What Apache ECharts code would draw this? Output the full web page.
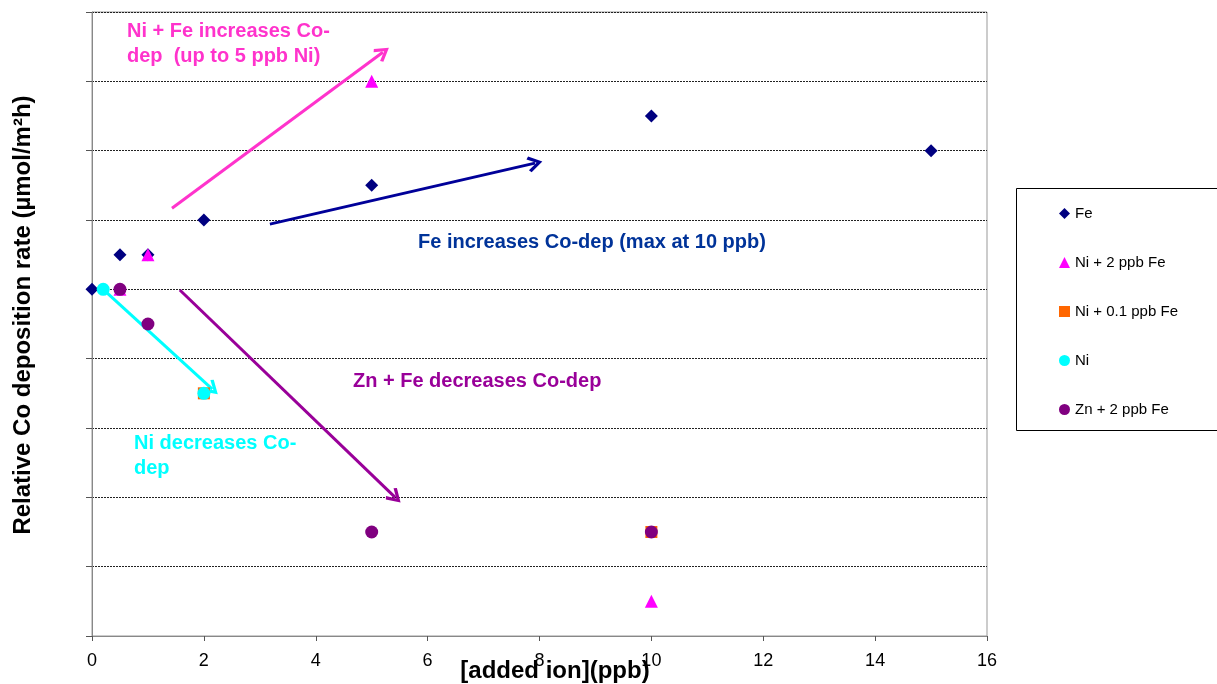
<!DOCTYPE html>
<html><head><meta charset="utf-8">
<script src="https://cdn.jsdelivr.net/npm/echarts@6/dist/echarts.min.js"></script>
<style>html,body{margin:0;padding:0;background:#fff}#c{width:1217px;height:684px}</style>
</head><body><div id="c"></div>
<script>
// Data (y in relative grid units, 0..9)
const xTicks = [0, 2, 4, 6, 8, 10, 12, 14, 16];
const feX = [0, 0.5, 1, 2, 5, 10, 15];
const feY = [5.0, 5.5, 5.5, 6.0, 6.5, 7.5, 7.0];
const ni2X = [0.5, 1, 5, 10];
const ni2Y = [5.0, 5.5, 8.0, 0.5];
const ni01X = [2, 10];
const ni01Y = [3.5, 1.5];
const niX = [0.2, 2];
const niY = [5.0, 3.5];
const znX = [0.5, 1, 5, 10];
const znY = [5.0, 4.5, 1.5, 1.5];
// Annotation arrows [x1,y1,x2,y2] in data units
const arrowNiFe = [1.43, 6.17, 5.2, 8.42];
const arrowFe = [3.18, 5.94, 7.92, 6.82];
const arrowZn = [1.57, 4.99, 5.42, 2.0];
const arrowNi = [0.2, 5.0, 2.15, 3.56];

const zip = (xs, ys) => xs.map((x, i) => [x, ys[i]]);
const arrowHead = 'path://M5,0 L10,8.2 L8.4,9.6 L5,3.8 L1.6,9.6 L0,8.2 Z';
function arrow(a, color) {
  return {
    type: 'scatter', data: [], silent: true,
    markLine: {
      silent: true, animation: false,
      symbol: ['none', arrowHead], symbolSize: [16, 15],
      label: {show: false},
      lineStyle: {color: color, width: 3, type: 'solid'},
      data: [[{coord: [a[0], a[1]]}, {coord: [a[2], a[3]]}]]
    }
  };
}
const chart = echarts.init(document.getElementById('c'));
const font = 'Arial, "Liberation Sans", sans-serif';
chart.setOption({
  animation: false,
  backgroundColor: '#fff',
  grid: {left: 92, right: 230, top: 12, bottom: 48, show: true, borderColor: '#999', borderWidth: 1,
         outerBoundsMode: 'none', containLabel: false},
  xAxis: {
    type: 'value', min: 0, max: 16, interval: 2,
    axisLine: {lineStyle: {color: '#888', width: 1}},
    axisTick: {show: true, inside: false, length: 5, lineStyle: {color: '#555'}},
    axisLabel: {fontFamily: font, fontSize: 18, color: '#000', margin: 16},
    splitLine: {show: false}
  },
  yAxis: {
    type: 'value', min: 0, max: 9, interval: 1,
    axisLine: {show: true, lineStyle: {color: '#888', width: 1}},
    axisTick: {show: true, inside: false, length: 6, lineStyle: {color: '#555'}},
    axisLabel: {show: false},
    splitLine: {show: true, lineStyle: {color: '#222', type: [2, 1], width: 1}}
  },
  legend: {
    orient: 'vertical', left: 1059, top: 206,
    padding: 0, itemGap: 34, itemWidth: 11, itemHeight: 11,
    textStyle: {fontFamily: font, fontSize: 15, color: '#000'},
    data: ['Fe', 'Ni + 2 ppb Fe', 'Ni + 0.1 ppb Fe', 'Ni', 'Zn + 2 ppb Fe']
  },
  graphic: [
    {type: 'rect', x: 1016.5, y: 188.5, shape: {width: 205, height: 242}, style: {fill: 'none', stroke: '#000', lineWidth: 1}, z: 100},
    {type: 'text', x: 23, y: 315, rotation: Math.PI / 2, style: {text: 'Relative Co deposition rate (µmol/m²h)', fill: '#000', font: 'bold 24px ' + font, align: 'center', verticalAlign: 'middle'}},
    {type: 'text', x: 555, y: 671, style: {text: '[added ion](ppb)', fill: '#000', font: 'bold 24px ' + font, align: 'center', verticalAlign: 'middle'}, z: 50},
    {type: 'text', left: 127, top: 19, style: {text: 'Ni + Fe increases Co-\ndep  (up to 5 ppb Ni)', fill: '#FF33CC', font: 'bold 20px ' + font, lineHeight: 25}},
    {type: 'text', left: 418, top: 232, style: {text: 'Fe increases Co-dep (max at 10 ppb)', fill: '#003399', font: 'bold 20px ' + font}},
    {type: 'text', left: 353, top: 371, style: {text: 'Zn + Fe decreases Co-dep', fill: '#990099', font: 'bold 20px ' + font}},
    {type: 'text', left: 134, top: 431, style: {text: 'Ni decreases Co-\ndep', fill: '#00FFFF', font: 'bold 20px ' + font, lineHeight: 25}}
  ],
  series: [
    arrow(arrowNiFe, '#FF33CC'),
    arrow(arrowFe, '#000099'),
    arrow(arrowZn, '#990099'),
    arrow(arrowNi, '#00FFFF'),
    {name: 'Fe', type: 'scatter', symbol: 'diamond', symbolSize: 13, itemStyle: {color: '#000080', opacity: 1}, data: zip(feX, feY), z: 3},
    {name: 'Ni + 2 ppb Fe', type: 'scatter', symbol: 'triangle', symbolSize: 13, itemStyle: {color: '#FF00FF', opacity: 1}, data: zip(ni2X, ni2Y), z: 4},
    {name: 'Ni + 0.1 ppb Fe', type: 'scatter', symbol: 'rect', symbolSize: 12, itemStyle: {color: '#FF6600', opacity: 1}, data: zip(ni01X, ni01Y), z: 5},
    {name: 'Ni', type: 'scatter', symbol: 'circle', symbolSize: 13, itemStyle: {color: '#00FFFF', opacity: 1}, data: zip(niX, niY), z: 6},
    {name: 'Zn + 2 ppb Fe', type: 'scatter', symbol: 'circle', symbolSize: 13, itemStyle: {color: '#800080', opacity: 1}, data: zip(znX, znY), z: 7}
  ]
});
</script></body></html>
